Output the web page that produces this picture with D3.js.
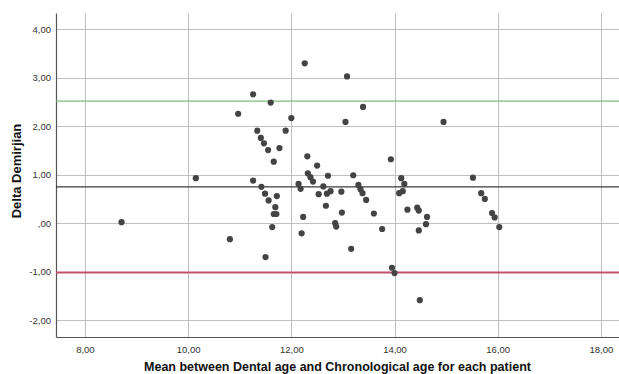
<!DOCTYPE html>
<html>
<head>
<meta charset="utf-8">
<script src="https://cdn.jsdelivr.net/npm/d3@7"></script>
<style>
  body { margin: 0; background: #fff; }
  svg { display: block; font-family: "Liberation Sans", Arial, sans-serif; }
</style>
</head>
<body>
<div id="chart"></div>
<script>
// mean of dental & chronological age (x) vs delta demirjian (y)
const meanAge = [8.71, 10.15, 10.81, 10.97, 11.26, 11.26, 11.34, 11.41, 11.42, 11.47,
  11.49, 11.50, 11.55, 11.56, 11.60, 11.63, 11.66, 11.66, 11.69, 11.71,
  11.72, 11.77, 11.89, 12.00, 12.14, 12.18, 12.20, 12.23, 12.26, 12.31,
  12.32, 12.37, 12.42, 12.50, 12.53, 12.62, 12.67, 12.69, 12.71, 12.76,
  12.85, 12.87, 12.97, 12.98, 13.05, 13.08, 13.16, 13.20, 13.30, 13.34,
  13.38, 13.39, 13.45, 13.60, 13.76, 13.93, 13.95, 14.00, 14.09, 14.13,
  14.16, 14.19, 14.25, 14.44, 14.47, 14.47, 14.49, 14.61, 14.63, 14.95,
  15.52, 15.68, 15.75, 15.89, 15.94, 16.03];
const deltaDem = [0.02, 0.93, -0.33, 2.26, 2.66, 0.88, 1.91, 1.76, 0.75, 1.65,
  0.61, -0.70, 1.51, 0.47, 2.49, -0.08, 1.27, 0.19, 0.33, 0.19,
  0.56, 1.55, 1.91, 2.17, 0.81, 0.71, -0.21, 0.13, 3.30, 1.38,
  1.03, 0.95, 0.86, 1.19, 0.60, 0.76, 0.36, 0.61, 0.98, 0.66,
  0.00, -0.07, 0.65, 0.22, 2.09, 3.03, -0.53, 0.99, 0.79, 0.70,
  0.62, 2.40, 0.48, 0.20, -0.12, 1.32, -0.92, -1.03, 0.62, 0.93,
  0.66, 0.81, 0.28, 0.32, 0.26, -0.15, -1.59, -0.02, 0.13, 2.09,
  0.94, 0.62, 0.50, 0.21, 0.12, -0.08];

const xTicks = [8, 10, 12, 14, 16, 18];
const yTicks = [-2, -1, 0, 1, 2, 3, 4];

// reference lines: upper limit, mean, lower limit
const refValues = [2.52, 0.75, -1.02];
const refColors = ["#7cc07c", "#3a3a3a", "#c4506f"];
const refWidths = [1.2, 1.2, 2];

const width = 619, height = 374;
const margin = { top: 13, right: 0, bottom: 37, left: 56 };

const svg = d3.select("#chart").append("svg")
  .attr("width", width)
  .attr("height", height);

const x = d3.scaleLinear()
  .domain([7.44, 18.35])
  .range([margin.left, width - margin.right]);

const y = d3.scaleLinear()
  .domain([-2.35, 4.34])
  .range([height - margin.bottom, margin.top]);

const fmt = (v) => v === 0 ? ",00" : d3.format(".2f")(v).replace(".", ",").replace("\u2212", "-");

// grid
const grid = svg.append("g").attr("stroke", "#bfbfbf").attr("stroke-width", 1);
grid.selectAll("line.gx")
  .data(xTicks)
  .join("line")
  .attr("class", "gx")
  .attr("x1", d => Math.round(x(d)) + 0.5)
  .attr("x2", d => Math.round(x(d)) + 0.5)
  .attr("y1", margin.top)
  .attr("y2", height - margin.bottom);
grid.selectAll("line.gy")
  .data(yTicks)
  .join("line")
  .attr("class", "gy")
  .attr("x1", margin.left)
  .attr("x2", width - margin.right)
  .attr("y1", d => Math.round(y(d)) + 0.5)
  .attr("y2", d => Math.round(y(d)) + 0.5);

// axes
const xAxis = svg.append("g")
  .attr("transform", `translate(0,${height - margin.bottom})`)
  .call(d3.axisBottom(x).tickValues(xTicks).tickFormat(fmt).tickSize(0).tickPadding(9));
const yAxis = svg.append("g")
  .attr("transform", `translate(${margin.left},0)`)
  .call(d3.axisLeft(y).tickValues(yTicks).tickFormat(fmt).tickSize(0).tickPadding(5));

[xAxis, yAxis].forEach(a => {
  a.select(".domain").attr("stroke", "#555").attr("stroke-width", 1.2);
  a.selectAll("text").attr("fill", "#333").style("font-size", "9.5px");
});

// reference lines
svg.append("g")
  .selectAll("line")
  .data(refValues)
  .join("line")
  .attr("x1", margin.left)
  .attr("x2", width - margin.right)
  .attr("y1", d => y(d))
  .attr("y2", d => y(d))
  .attr("stroke", (d, i) => refColors[i])
  .attr("stroke-width", (d, i) => refWidths[i]);

// points
svg.append("g")
  .attr("fill", "#444")
  .selectAll("circle")
  .data(meanAge.map((m, i) => [m, deltaDem[i]]))
  .join("circle")
  .attr("cx", d => x(d[0]))
  .attr("cy", d => y(d[1]))
  .attr("r", 3.1);

// titles
svg.append("text")
  .attr("x", (margin.left + width - margin.right) / 2)
  .attr("y", 371)
  .attr("text-anchor", "middle")
  .attr("font-weight", "bold")
  .attr("font-size", 12.5)
  .attr("fill", "#111")
  .text("Mean between Dental age and Chronological age for each patient");

svg.append("text")
  .attr("transform", `translate(21,${(margin.top + height - margin.bottom) / 2 - 4}) rotate(-90)`)
  .attr("text-anchor", "middle")
  .attr("font-weight", "bold")
  .attr("font-size", 13)
  .attr("fill", "#111")
  .text("Delta Demirjian");
</script>
</body>
</html>
